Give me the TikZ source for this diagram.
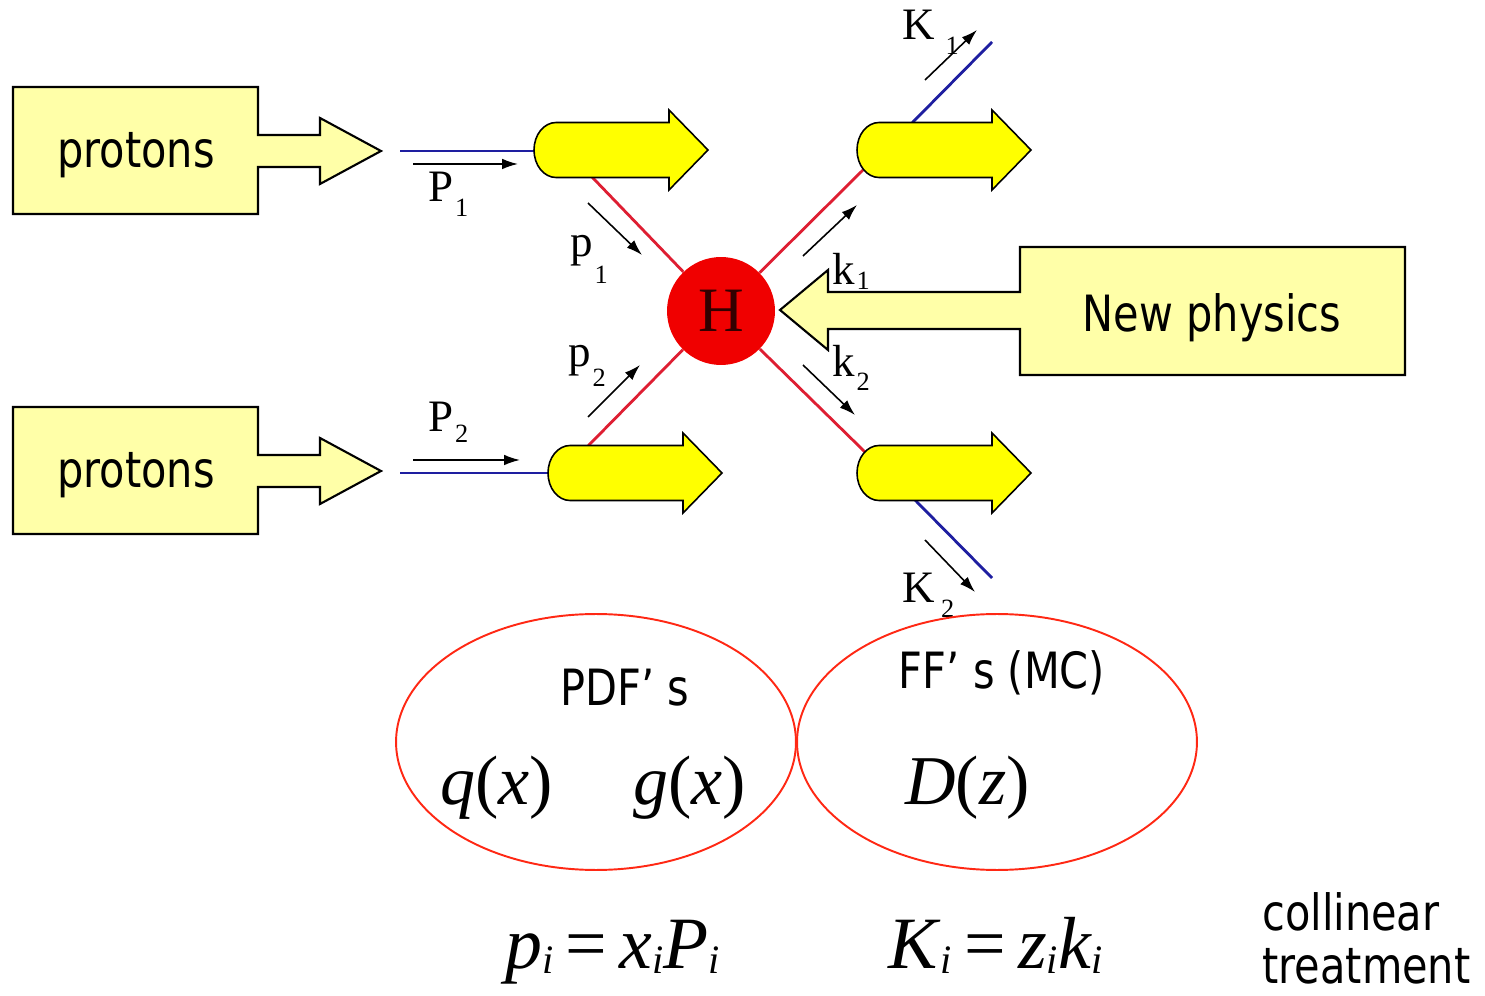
\documentclass[tikz,border=0pt]{standalone}
\usepackage{fontspec}
\setmainfont{DejaVu Sans}[FakeStretch=0.83]
\newfontfamily\tms{Liberation Serif}
\usepackage{tikz}
\usetikzlibrary{arrows.meta,positioning,calc,shapes.geometric}
\definecolor{calloutfill}{RGB}{255,255,168}
\definecolor{blobfill}{RGB}{255,255,0}
\definecolor{partonred}{RGB}{222,30,50}
\definecolor{hadronblue}{RGB}{30,30,160}
\definecolor{ovalred}{RGB}{255,40,20}
\definecolor{hardred}{RGB}{240,0,0}
\definecolor{hardtext}{RGB}{50,0,0}
\newcommand{\momlab}[3][-0.33em]{#2\kern0.04em\raisebox{#1}{\fontsize{15}{15}\selectfont #3}}
\newcommand{\isub}[1]{\raisebox{-0.08em}{\fontsize{23}{23}\selectfont\itshape #1}}
\tikzset{
  callout/.style={draw=black,line width=1.2pt,fill=calloutfill},
  blob/.style={draw=black,line width=0.9pt,fill=blobfill},
  parton/.style={partonred,line width=1.6pt},
  hadron/.style={hadronblue,line width=1.6pt},
  mom/.style={black,line width=0.9pt,-{Latex[length=9pt,width=6pt]}},
  lab/.style={font=\tms\fontsize{25.6}{25.6}\selectfont,inner sep=0pt,anchor=base west},
  txt/.style={font=\fontsize{28.45}{30}\selectfont,inner sep=0pt},
  mth/.style={font=\tms\fontsize{39.8}{39.8}\selectfont,inner sep=0pt,anchor=base west},
  oval/.style={ellipse,draw=ovalred,line width=1.1pt,minimum width=8cm,minimum height=5.12cm,inner sep=0pt}
}
\begin{document}
\begin{tikzpicture}[x=0.02cm,y=-0.02cm]
\path[use as bounding box] (0,0) rectangle (1485,996);
% callouts
\foreach \yo in {0,320}
  \draw[callout] (13,{87+\yo}) -- (258,{87+\yo}) -- (258,{135+\yo}) -- (320,{135+\yo}) -- (320,{118+\yo})
    -- (381,{151+\yo}) -- (320,{184+\yo}) -- (320,{167+\yo}) -- (258,{167+\yo}) -- (258,{214+\yo}) -- (13,{214+\yo}) -- cycle;
\node[txt,anchor=base] (prot1) at (136,168) {protons};
\node[txt,anchor=base] (prot2) at (136,488) {protons};
\draw[callout] (1405,247) -- (1020,247) -- (1020,292) -- (828,292) -- (828,270) -- (780,310)
  -- (828,350) -- (828,329) -- (1020,329) -- (1020,375) -- (1405,375) -- cycle;
\node[txt,anchor=base] (newphys) at (1212,332) {New physics};
% hard scattering
\node[circle,fill=hardred,minimum size=2.16cm,inner sep=0pt,text=hardtext,
  font=\tms\fontsize{36}{36}\selectfont] (H) at (721,311) {\raisebox{-4pt}{H}};
\coordinate (q1) at (592,177);
\coordinate (q2) at (588,446);
\coordinate (q3) at (863,170);
\coordinate (q4) at (865,452);
\foreach \q in {q1,q2,q3,q4}
  \draw[parton] (\q) -- (H);
% hadron lines
\coordinate (in1) at (400,151);
\coordinate (in2) at (400,473);
\coordinate (b1) at (534,151);
\coordinate (b2) at (548,473);
\coordinate (h3) at (912,123);
\coordinate (h4) at (915,500);
\coordinate (out1) at (992,42);
\coordinate (out2) at (992,578);
\draw[hadron] (in1) -- (b1);
\draw[hadron] (in2) -- (b2);
\draw[hadron] (h3) -- (out1);
\draw[hadron] (h4) -- (out2);
% blobs
\foreach \xl/\yc in {534/150,548/473,857/150,857/473}
  \draw[blob] ({\xl+22},{\yc+27.5}) arc[start angle=270,end angle=90,x radius=0.44cm,y radius=0.55cm]
    -- ({\xl+135},{\yc-27.5}) -- ({\xl+135},{\yc-40}) -- ({\xl+174},\yc) -- ({\xl+135},{\yc+40})
    -- ({\xl+135},{\yc+27.5}) -- cycle;
% momentum arrows
\foreach \n/\xa/\ya/\xb/\yb in {P1/413/164/518/164,P2/413/460/520/460,p1/588/203/642/255,p2/588/417/640/365,
    k1/803/256/857/205,k2/803/365/855/415,K1/925/80/977/30,K2/925/540/975/592}{
  \coordinate (\n s) at (\xa,\ya);
  \coordinate (\n e) at (\xb,\yb);
  \draw[mom] (\n s) -- (\n e);
}
\node[lab] (lP1) at (428,202) {\momlab{P}{1}};
\node[lab] (lP2) at (428,432) {\momlab[-0.24em]{P}{2}};
\node[lab] (lp1) at (570,257) {\momlab[-0.58em]{p}{1}};
\node[lab] (lp2) at (568,367) {\momlab[-0.44em]{p}{2}};
\node[lab] (lk1) at (832,285) {\momlab[-0.11em]{k}{1}};
\node[lab] (lk2) at (832,377) {\momlab[-0.29em]{k}{2}};
\node[lab] (lK1) at (902,40) {\momlab{K\kern0.2em}{1}};
\node[lab] (lK2) at (902,603) {\momlab{K\kern0.1em}{2}};
% distributions
\node[oval] (pdfoval) at (596,742) {};
\node[oval] (ffoval) at (997,742) {};
\node[txt,anchor=base] (pdf) at (625,705) {PDF’ s};
\node[txt,anchor=base] (ff) at (1002,689) {FF’ s (MC)};
\node[mth] (qx) at (440,805) {\textit{q}(\textit{x})};
\node[mth] (gx) at (633,805) {\textit{g}(\textit{x})};
\node[mth] (Dz) at (905,805) {\textit{D}(\textit{z})};
% collinear relations
\node[mth,font=\tms\fontsize{42}{42}\selectfont] (eqp) at (505,968) {\textit{p}\isub{i}\,=\,\textit{x}\isub{i}\textit{P}\isub{i}};
\node[mth,font=\tms\fontsize{42}{42}\selectfont] (eqK) at (888,968) {\textit{K}\isub{i}\,=\,\textit{z}\isub{i}\textit{k}\isub{i}};
\node[txt,anchor=base west,align=left] (coll) at (1262,983) {collinear\\treatment};
\end{tikzpicture}
\end{document}
